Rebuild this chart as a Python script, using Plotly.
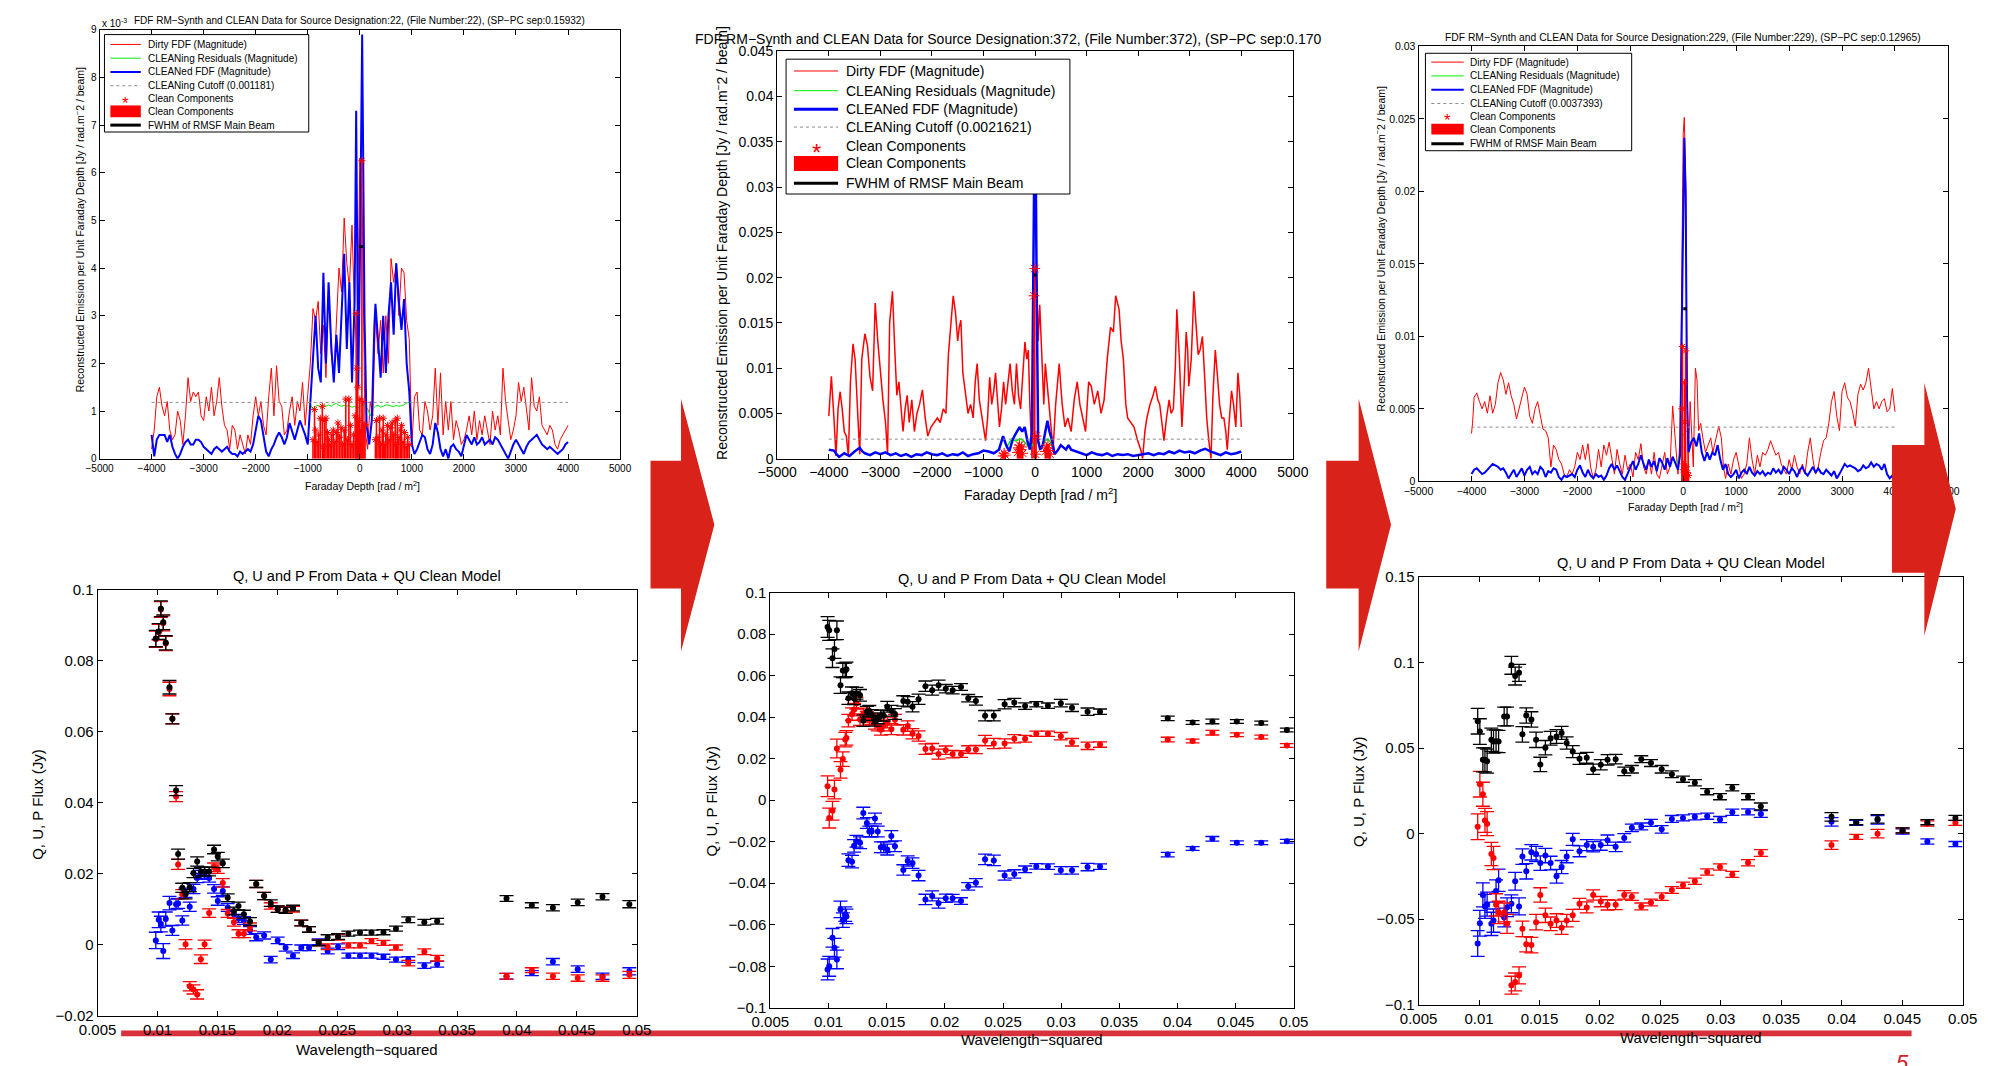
import plotly.graph_objects as go

W, H = 2015, 1066
FONT = "Liberation Sans, Arial, Helvetica, sans-serif"

# ------------------------------------------------------------------ data
# --- top-left FDF (source 22); amplitudes in units of 1e-3 Jy/rad.m^-2/beam
TL_PHI = list(range(-4000, 4001, 50))
TL_DIRTY_E3 = [
    0.2, 0.6, 1.3, 1.5, 1.1, 0.9, 1.2, 0.6, 0.4, 0.5,
    1.0, 0.8, 0.3, 0.9, 1.7, 1.2, 1.4, 1.3, 1.4, 0.9,
    0.8, 1.3, 1.0, 1.5, 0.9, 1.2, 1.7, 1.1, 0.7, 0.6,
    0.2, 0.7, 0.6, 0.2, 0.5, 0.3, 0.1, 0.5, 0.3, 0.9,
    1.3, 0.9, 1.2, 0.7, 0.5, 1.3, 1.9, 0.9, 1.95, 1.2,
    1.1, 0.5, 0.6, 1.0, 1.3, 0.7, 1.2, 1.0, 1.6, 0.7,
    1.3, 2.0, 3.15, 2.9, 3.3, 2.2, 2.8, 1.7, 3.6, 2.2,
    1.7, 3.0, 4.0, 3.5, 5.05, 4.1, 3.6, 4.9, 3.0, 2.2,
    6.3, 5.0, 0.6, 0.2, 1.2, 0.9, 3.0, 2.2, 2.9, 1.8,
    3.0, 2.0, 4.2, 3.7, 4.1, 3.0, 4.0, 3.9, 2.9, 2.5,
    0.3, 1.3, 1.4, 0.6, 0.5, 1.2, 1.0, 0.6, 0.9, 1.9,
    0.7, 1.8, 0.5, 1.2, 0.6, 1.2, 0.4, 0.8, 0.6, 0.3,
    0.4, 0.6, 0.9, 0.5, 1.0, 0.4, 0.8, 0.5, 0.9, 0.6,
    0.3, 1.0, 0.6, 0.9, 0.5, 1.9, 1.2, 0.8, 0.4, 0.6,
    0.9, 1.6, 1.2, 1.5, 1.0, 0.6, 1.7, 1.1, 1.0, 1.3,
    0.7, 0.6, 0.5, 0.7, 0.6, 0.3, 0.2, 0.4, 0.5, 0.6,
    0.7]
TL_CLEAN_E3 = [
    (-4000, 0.5), (-3950, 0.05), (-3900, 0.4), (-3850, 0.5), (-3800, 0.5), (-3750, 0.5),
    (-3700, 0.35), (-3650, 0.5), (-3600, 0.25), (-3550, 0.1), (-3500, 0.0), (-3450, 0.1),
    (-3400, 0.25), (-3350, 0.35), (-3300, 0.4), (-3250, 0.3), (-3200, 0.3), (-3150, 0.4),
    (-3100, 0.4), (-3050, 0.35), (-3000, 0.25), (-2950, 0.2), (-2900, 0.15), (-2850, 0.1),
    (-2800, 0.2), (-2750, 0.25), (-2700, 0.2), (-2650, 0.15), (-2600, 0.2), (-2550, 0.25),
    (-2500, 0.15), (-2450, 0.1), (-2400, 0.1), (-2350, 0.05), (-2300, 0.15), (-2250, 0.1),
    (-2200, 0.15), (-2150, 0.2), (-2100, 0.15), (-2050, 0.3), (-2000, 0.6), (-1950, 0.9),
    (-1900, 0.8), (-1850, 0.5), (-1800, 0.15), (-1750, 0.05), (-1700, 0.2), (-1650, 0.3),
    (-1600, 0.45), (-1550, 0.55), (-1500, 0.45), (-1450, 0.3), (-1400, 0.45), (-1350, 0.75),
    (-1300, 0.55), (-1250, 0.4), (-1200, 0.6), (-1150, 0.8), (-1100, 0.65), (-1050, 0.5),
    (-1000, 0.3), (-950, 1.2), (-900, 2.1), (-850, 3.0), (-800, 1.9), (-750, 1.6),
    (-700, 3.9), (-650, 2.0), (-600, 3.7), (-550, 2.4), (-500, 1.6), (-450, 2.6),
    (-400, 1.8), (-350, 3.2), (-300, 4.3), (-250, 2.3), (-200, 3.7), (-150, 1.6),
    (-100, 3.3), (-70, 7.3), (-30, 1.5), (0, 4.0), (45, 8.9), (90, 3.0), (130, 0.7),
    (180, 0.3), (230, 0.8), (280, 2.8), (300, 3.25), (350, 2.5), (400, 1.7), (450, 3.0),
    (500, 1.8), (550, 3.0), (600, 3.7), (650, 2.6), (700, 4.1), (750, 3.3), (800, 2.7),
    (850, 3.35), (900, 2.0), (950, 1.4), (1000, 0.3), (1050, 0.1), (1100, 0.2), (1150, 0.35),
    (1200, 0.5), (1250, 0.45), (1300, 0.2), (1350, 0.1), (1400, 0.3), (1450, 0.75),
    (1500, 0.55), (1550, 0.2), (1600, 0.05), (1650, 0.2), (1700, 0.0), (1750, 0.25),
    (1800, 0.3), (1850, 0.2), (1900, 0.15), (1950, 0.05), (2000, 0.3), (2050, 0.5),
    (2100, 0.4), (2150, 0.3), (2200, 0.45), (2250, 0.3), (2300, 0.35), (2350, 0.45),
    (2400, 0.3), (2450, 0.35), (2500, 0.4), (2550, 0.3), (2600, 0.45), (2650, 0.4),
    (2700, 0.3), (2750, 0.2), (2800, 0.1), (2850, 0.0), (2900, 0.15), (2950, 0.3),
    (3000, 0.4), (3050, 0.3), (3100, 0.2), (3150, 0.1), (3200, 0.25), (3250, 0.35),
    (3300, 0.4), (3350, 0.45), (3400, 0.5), (3450, 0.4), (3500, 0.3), (3550, 0.25),
    (3600, 0.2), (3650, 0.25), (3700, 0.2), (3750, 0.15), (3800, 0.1), (3850, 0.15),
    (3900, 0.2), (3950, 0.3), (4000, 0.35)]
TL_RESID_E3 = [
    (-950, 1.15), (-900, 1.02), (-850, 1.1), (-800, 1.12), (-750, 1.08), (-700, 1.12),
    (-650, 1.1), (-600, 1.13), (-550, 1.1), (-500, 1.14), (-450, 1.16), (-400, 1.12),
    (-350, 1.1), (-300, 1.12), (-250, 1.1), (-200, 1.11), (-150, 1.08), (-100, 1.1),
    (-50, 1.05), (0, 1.1), (50, 1.12), (100, 1.1), (150, 1.05), (200, 0.9), (250, 1.05),
    (300, 1.1), (350, 1.12), (400, 1.08), (450, 1.1), (500, 1.13), (550, 1.12), (600, 1.1),
    (650, 1.09), (700, 1.12), (750, 1.1), (800, 1.11), (850, 1.13), (900, 1.17), (950, 1.18),
    (980, 1.0)]
TL_CUTOFF = 0.001181
TL_CC_E3 = [
    (-900, 0.40), (-870, 1.03), (-850, 0.60), (-820, 0.35), (-790, 0.50), (-760, 0.85),
    (-720, 1.10), (-700, 0.25), (-680, 0.80), (-650, 0.85), (-620, 0.55), (-600, 0.40),
    (-570, 0.30), (-540, 0.50), (-510, 0.60), (-480, 0.35), (-450, 0.55), (-420, 0.75),
    (-390, 0.45), (-360, 0.65), (-330, 0.30), (-300, 0.60), (-270, 1.25), (-240, 0.40),
    (-210, 1.25), (-180, 0.70), (-150, 0.30), (-120, 0.50), (-90, 0.90), (-70, 3.05),
    (-55, 1.90), (-40, 1.50), (-20, 0.80), (0, 1.25), (20, 0.60), (40, 6.25), (60, 1.20),
    (80, 0.70), (100, 0.72), (300, 0.40), (320, 0.80), (350, 0.45), (380, 0.85), (400, 0.30),
    (430, 0.60), (450, 0.85), (480, 0.30), (500, 0.50), (530, 0.70), (560, 0.40), (590, 0.65),
    (620, 0.75), (650, 0.50), (680, 0.80), (700, 0.30), (720, 0.85), (750, 0.45), (780, 0.60),
    (800, 0.70), (830, 0.35), (860, 0.55), (890, 0.25), (920, 0.45), (950, 0.30)]
TL_FWHM_E3 = (-10, 60, 4.45)

# --- top-middle FDF (source 372)
TM_DIRTY = [
    (-4000, 0.0047), (-3950, 0.0091), (-3900, 0.0045), (-3860, 0.0003), (-3820, 0.0055),
    (-3780, 0.0074), (-3740, 0.0055), (-3700, 0.0030), (-3660, 0.0025), (-3620, 0.0003),
    (-3580, 0.0085), (-3530, 0.0127), (-3490, 0.0110), (-3450, 0.0060), (-3400, 0.0005),
    (-3360, 0.0110), (-3300, 0.0138), (-3250, 0.0125), (-3200, 0.0090), (-3150, 0.0075),
    (-3100, 0.0172), (-3050, 0.0130), (-3000, 0.0095), (-2950, 0.0065), (-2900, 0.0040),
    (-2860, 0.0005), (-2820, 0.0150), (-2765, 0.0185), (-2720, 0.0120), (-2680, 0.0070),
    (-2640, 0.0085), (-2600, 0.0060), (-2560, 0.0030), (-2520, 0.0055), (-2480, 0.0070),
    (-2440, 0.0040), (-2390, 0.0065), (-2340, 0.0030), (-2290, 0.0050), (-2240, 0.0060),
    (-2184, 0.0076), (-2130, 0.0045), (-2080, 0.0025), (-2018, 0.0035), (-1960, 0.0040),
    (-1894, 0.0045), (-1840, 0.0040), (-1780, 0.0055), (-1728, 0.0050), (-1680, 0.0115),
    (-1630, 0.0150), (-1587, 0.0180), (-1540, 0.0160), (-1500, 0.0130), (-1470, 0.0145),
    (-1438, 0.0153), (-1400, 0.0095), (-1350, 0.0075), (-1300, 0.0050), (-1250, 0.0060),
    (-1200, 0.0045), (-1160, 0.0085), (-1123, 0.0105), (-1080, 0.0065), (-1040, 0.0050),
    (-1000, 0.0040), (-960, 0.0020), (-920, 0.0045), (-880, 0.0090), (-840, 0.0060),
    (-800, 0.0075), (-766, 0.0095), (-730, 0.0060), (-690, 0.0035), (-650, 0.0055),
    (-610, 0.0085), (-570, 0.0060), (-530, 0.0080), (-484, 0.0105), (-440, 0.0075),
    (-400, 0.0060), (-360, 0.0105), (-320, 0.0070), (-280, 0.0055), (-240, 0.0095),
    (-196, 0.0129), (-160, 0.0110), (-130, 0.0120), (-100, 0.0060), (-58, 0.0000),
    (-30, 0.0120), (0, 0.0210), (30, 0.0195), (60, 0.0130), (91, 0.0170), (133, 0.0100),
    (170, 0.0060), (199, 0.0105), (250, 0.0070), (300, 0.0040), (350, 0.0010), (400, 0.0060),
    (440, 0.0090), (469, 0.0105), (500, 0.0080), (527, 0.0060), (580, 0.0035), (635, 0.0045),
    (700, 0.0030), (760, 0.0065), (818, 0.0085), (870, 0.0060), (925, 0.0045), (980, 0.0030),
    (1040, 0.0085), (1091, 0.0080), (1150, 0.0060), (1216, 0.0075), (1280, 0.0050),
    (1340, 0.0065), (1400, 0.0110), (1464, 0.0145), (1520, 0.0140), (1564, 0.0180),
    (1630, 0.0165), (1670, 0.0130), (1713, 0.0110), (1760, 0.0060), (1796, 0.0045),
    (1860, 0.0040), (1920, 0.0035), (1990, 0.0020), (2050, 0.0010), (2086, 0.0000),
    (2130, 0.0030), (2169, 0.0045), (2230, 0.0060), (2290, 0.0070), (2335, 0.0080),
    (2380, 0.0065), (2418, 0.0060), (2460, 0.0040), (2501, 0.0020), (2550, 0.0045),
    (2600, 0.0065), (2640, 0.0050), (2683, 0.0055), (2720, 0.0100), (2750, 0.0165),
    (2800, 0.0110), (2849, 0.0035), (2890, 0.0080), (2932, 0.0140), (2960, 0.0120),
    (2982, 0.0080), (3030, 0.0110), (3081, 0.0185), (3120, 0.0150), (3164, 0.0115),
    (3200, 0.0120), (3247, 0.0135), (3290, 0.0090), (3330, 0.0045), (3370, 0.0020),
    (3413, 0.0000), (3450, 0.0070), (3496, 0.0120), (3540, 0.0090), (3579, 0.0060),
    (3620, 0.0045), (3662, 0.0045), (3700, 0.0030), (3728, 0.0010), (3770, 0.0045),
    (3811, 0.0075), (3850, 0.0060), (3894, 0.0035), (3935, 0.0095), (3970, 0.0070),
    (4000, 0.0035)]
TM_CLEAN = [
    (-4000, 0.0010), (-3900, 0.0009), (-3850, 0.0005), (-3800, 0.0002), (-3700, 0.0006),
    (-3600, 0.0003), (-3500, 0.0008), (-3400, 0.0012), (-3350, 0.0008), (-3300, 0.0006),
    (-3200, 0.0004), (-3100, 0.0007), (-3000, 0.0005), (-2900, 0.0007), (-2800, 0.0004),
    (-2700, 0.0006), (-2600, 0.0003), (-2500, 0.0005), (-2400, 0.0002), (-2300, 0.0005),
    (-2200, 0.0004), (-2100, 0.0007), (-2000, 0.0005), (-1900, 0.0004), (-1800, 0.0006),
    (-1700, 0.0003), (-1600, 0.0005), (-1500, 0.0004), (-1400, 0.0007), (-1300, 0.0003),
    (-1200, 0.0005), (-1100, 0.0006), (-1000, 0.0009), (-900, 0.0008), (-800, 0.0006),
    (-700, 0.0010), (-620, 0.0025), (-560, 0.0015), (-500, 0.0008), (-440, 0.0020),
    (-400, 0.0025), (-350, 0.0030), (-300, 0.0035), (-250, 0.0030), (-200, 0.0035),
    (-150, 0.0020), (-100, 0.0010), (-60, 0.0030), (-30, 0.0200), (0, 0.0420), (30, 0.0200),
    (60, 0.0020), (100, 0.0010), (150, 0.0015), (200, 0.0030), (240, 0.0042), (280, 0.0030),
    (330, 0.0020), (380, 0.0005), (450, 0.0010), (500, 0.0015), (550, 0.0012), (600, 0.0010),
    (650, 0.0015), (700, 0.0010), (800, 0.0008), (900, 0.0006), (1000, 0.0004),
    (1100, 0.0007), (1200, 0.0005), (1300, 0.0004), (1400, 0.0006), (1500, 0.0003),
    (1600, 0.0005), (1700, 0.0004), (1800, 0.0005), (1900, 0.0003), (2000, 0.0004),
    (2100, 0.0005), (2200, 0.0006), (2300, 0.0004), (2400, 0.0006), (2500, 0.0005),
    (2600, 0.0008), (2700, 0.0006), (2800, 0.0009), (2900, 0.0007), (3000, 0.0008),
    (3100, 0.0006), (3200, 0.0009), (3300, 0.0011), (3400, 0.0008), (3500, 0.0006),
    (3600, 0.0004), (3700, 0.0007), (3800, 0.0005), (3900, 0.0006), (4000, 0.0008)]
TM_RESID = [
    (-560, 0.0012), (-500, 0.0018), (-450, 0.0022), (-400, 0.0020), (-350, 0.0020),
    (-300, 0.0022), (-250, 0.0021), (-200, 0.0018), (-150, 0.0015), (-100, 0.0012),
    (-50, 0.0015), (0, 0.0020), (50, 0.0018), (100, 0.0012), (150, 0.0015), (200, 0.0020),
    (250, 0.0022), (300, 0.0018), (340, 0.0012)]
TM_CUTOFF = 0.0021621
TM_CC = [
    (-620, 0.0003), (-600, 0.0006), (-580, 0.0004), (-340, 0.0007), (-320, 0.0012),
    (-300, 0.0015), (-280, 0.0010), (-260, 0.0013), (-240, 0.0006), (-20, 0.0180),
    (-5, 0.0210), (10, 0.0005), (20, 0.0025), (200, 0.0008), (220, 0.0012), (250, 0.0015),
    (270, 0.0009), (290, 0.0005)]
TM_FWHM = (-25, 25, 0.0203)

# --- top-right FDF (source 229)
TR_DIRTY = [
    (-4000, 0.0033), (-3980, 0.0040), (-3950, 0.0058), (-3900, 0.0061), (-3850, 0.0055),
    (-3800, 0.0050), (-3750, 0.0055), (-3700, 0.0047), (-3650, 0.0059), (-3600, 0.0047),
    (-3550, 0.0053), (-3500, 0.0068), (-3450, 0.0075), (-3400, 0.0070), (-3350, 0.0060),
    (-3300, 0.0068), (-3250, 0.0059), (-3200, 0.0053), (-3150, 0.0043), (-3100, 0.0050),
    (-3050, 0.0057), (-3000, 0.0065), (-2950, 0.0060), (-2900, 0.0045), (-2850, 0.0040),
    (-2800, 0.0050), (-2750, 0.0055), (-2700, 0.0045), (-2650, 0.0036), (-2600, 0.0035),
    (-2550, 0.0030), (-2500, 0.0010), (-2450, 0.0025), (-2400, 0.0022), (-2350, 0.0015),
    (-2300, 0.0012), (-2250, 0.0005), (-2200, 0.0003), (-2150, 0.0008), (-2100, 0.0005),
    (-2050, 0.0010), (-2000, 0.0020), (-1950, 0.0015), (-1900, 0.0025), (-1850, 0.0015),
    (-1800, 0.0026), (-1750, 0.0010), (-1700, 0.0002), (-1650, 0.0008), (-1600, 0.0022),
    (-1550, 0.0010), (-1500, 0.0025), (-1450, 0.0018), (-1400, 0.0027), (-1350, 0.0015),
    (-1300, 0.0005), (-1250, 0.0022), (-1200, 0.0012), (-1150, 0.0005), (-1100, 0.0018),
    (-1050, 0.0008), (-1000, 0.0012), (-950, 0.0003), (-900, 0.0020), (-850, 0.0015),
    (-800, 0.0026), (-750, 0.0010), (-700, 0.0005), (-650, 0.0015), (-600, 0.0005),
    (-550, 0.0020), (-500, 0.0005), (-450, 0.0002), (-400, 0.0010), (-350, 0.0020),
    (-300, 0.0005), (-250, 0.0010), (-200, 0.0052), (-150, 0.0030), (-100, 0.0005),
    (-60, 0.0030), (-30, 0.0130), (0, 0.0240), (20, 0.0251), (50, 0.0200), (70, 0.0080),
    (90, 0.0002), (130, 0.0055), (160, 0.0030), (190, 0.0010), (230, 0.0078), (260, 0.0070),
    (290, 0.0035), (330, 0.0040), (370, 0.0030), (420, 0.0020), (470, 0.0025), (520, 0.0030),
    (560, 0.0020), (620, 0.0030), (670, 0.0038), (720, 0.0030), (760, 0.0010), (800, 0.0002),
    (850, 0.0012), (900, 0.0005), (950, 0.0015), (1000, 0.0020), (1050, 0.0010),
    (1100, 0.0002), (1150, 0.0005), (1200, 0.0012), (1250, 0.0030), (1300, 0.0015),
    (1350, 0.0005), (1400, 0.0018), (1450, 0.0010), (1500, 0.0020), (1550, 0.0018),
    (1600, 0.0022), (1650, 0.0028), (1700, 0.0023), (1750, 0.0018), (1800, 0.0020),
    (1850, 0.0012), (1900, 0.0008), (1950, 0.0005), (2000, 0.0015), (2050, 0.0008),
    (2100, 0.0018), (2150, 0.0010), (2200, 0.0005), (2250, 0.0012), (2300, 0.0005),
    (2350, 0.0020), (2400, 0.0030), (2450, 0.0015), (2500, 0.0005), (2550, 0.0010),
    (2600, 0.0020), (2650, 0.0028), (2700, 0.0030), (2750, 0.0040), (2800, 0.0055),
    (2850, 0.0062), (2900, 0.0045), (2950, 0.0035), (3000, 0.0062), (3050, 0.0068),
    (3100, 0.0058), (3150, 0.0055), (3200, 0.0048), (3250, 0.0038), (3300, 0.0060),
    (3350, 0.0067), (3400, 0.0063), (3450, 0.0068), (3500, 0.0078), (3550, 0.0065),
    (3600, 0.0050), (3650, 0.0055), (3700, 0.0050), (3750, 0.0055), (3800, 0.0057),
    (3850, 0.0048), (3900, 0.0050), (3950, 0.0064), (4000, 0.0048)]
TR_CLEAN = [
    (-4000, 0.0005), (-3950, 0.0008), (-3900, 0.0009), (-3850, 0.0007), (-3800, 0.0005),
    (-3750, 0.0006), (-3700, 0.0008), (-3650, 0.0010), (-3600, 0.0012), (-3550, 0.0011),
    (-3500, 0.0010), (-3450, 0.0008), (-3400, 0.0009), (-3350, 0.0006), (-3300, 0.0002),
    (-3250, 0.0005), (-3200, 0.0008), (-3150, 0.0003), (-3100, 0.0006), (-3050, 0.0009),
    (-3000, 0.0004), (-2950, 0.0008), (-2900, 0.0010), (-2850, 0.0005), (-2800, 0.0007),
    (-2750, 0.0005), (-2700, 0.0010), (-2650, 0.0008), (-2600, 0.0003), (-2550, 0.0007),
    (-2500, 0.0006), (-2450, 0.0009), (-2400, 0.0008), (-2350, 0.0003), (-2300, 0.0001),
    (-2250, 0.0004), (-2200, 0.0003), (-2150, 0.0004), (-2100, 0.0005), (-2050, 0.0003),
    (-2000, 0.0008), (-1950, 0.0011), (-1900, 0.0006), (-1850, 0.0003), (-1800, 0.0008),
    (-1750, 0.0004), (-1700, 0.0002), (-1650, 0.0005), (-1600, 0.0003), (-1550, 0.0004),
    (-1500, 0.0001), (-1450, 0.0004), (-1400, 0.0009), (-1350, 0.0012), (-1300, 0.0008),
    (-1250, 0.0011), (-1200, 0.0007), (-1150, 0.0003), (-1100, 0.0001), (-1050, 0.0005),
    (-1000, 0.0010), (-950, 0.0014), (-900, 0.0008), (-850, 0.0012), (-800, 0.0018),
    (-750, 0.0012), (-700, 0.0008), (-650, 0.0015), (-600, 0.0010), (-550, 0.0014),
    (-500, 0.0007), (-450, 0.0016), (-400, 0.0013), (-350, 0.0008), (-300, 0.0016),
    (-250, 0.0010), (-200, 0.0017), (-150, 0.0013), (-100, 0.0008), (-60, 0.0018),
    (-30, 0.0100), (0, 0.0210), (20, 0.0237), (45, 0.0200), (70, 0.0060), (100, 0.0020),
    (150, 0.0027), (200, 0.0030), (250, 0.0024), (300, 0.0033), (350, 0.0020), (400, 0.0014),
    (450, 0.0020), (500, 0.0015), (550, 0.0020), (600, 0.0018), (650, 0.0025), (700, 0.0015),
    (750, 0.0008), (800, 0.0012), (850, 0.0005), (900, 0.0003), (950, 0.0005), (1000, 0.0008),
    (1050, 0.0002), (1100, 0.0006), (1150, 0.0008), (1200, 0.0005), (1250, 0.0010),
    (1300, 0.0006), (1350, 0.0004), (1400, 0.0007), (1450, 0.0005), (1500, 0.0007),
    (1550, 0.0004), (1600, 0.0006), (1650, 0.0005), (1700, 0.0009), (1750, 0.0006),
    (1800, 0.0008), (1850, 0.0005), (1900, 0.0010), (1950, 0.0008), (2000, 0.0005),
    (2050, 0.0009), (2100, 0.0007), (2150, 0.0003), (2200, 0.0008), (2250, 0.0010),
    (2300, 0.0006), (2350, 0.0004), (2400, 0.0007), (2450, 0.0010), (2500, 0.0006),
    (2550, 0.0009), (2600, 0.0006), (2650, 0.0005), (2700, 0.0008), (2750, 0.0006),
    (2800, 0.0004), (2850, 0.0007), (2900, 0.0002), (2950, 0.0005), (3000, 0.0009),
    (3050, 0.0012), (3100, 0.0010), (3150, 0.0011), (3200, 0.0010), (3250, 0.0009),
    (3300, 0.0007), (3350, 0.0008), (3400, 0.0011), (3450, 0.0009), (3500, 0.0010),
    (3550, 0.0013), (3600, 0.0010), (3650, 0.0012), (3700, 0.0011), (3750, 0.0008),
    (3800, 0.0012), (3850, 0.0005), (3900, 0.0002), (3950, 0.0004), (4000, 0.0007)]
TR_RESID = [(-120, 0.0012), (-60, 0.0020), (0, 0.0032), (40, 0.0035), (80, 0.0034), (110, 0.0025)]
TR_CUTOFF = 0.0037393
TR_CC = [(-25, 0.0050), (-15, 0.0093), (0, 0.0008), (10, 0.0012), (25, 0.0068), (35, 0.0041),
         (45, 0.0090), (60, 0.0010), (80, 0.0006), (100, 0.0004)]
TR_FWHM = (0, 70, 0.0119)

# --- bottom-left Q/U/P (source 22)
BL_LAM2 = [0.00986, 0.0101, 0.01028, 0.01048, 0.01069, 0.011, 0.01124, 0.01155, 0.01172, 0.01207,
           0.01234, 0.01269, 0.013, 0.01331, 0.01362, 0.01393, 0.01431, 0.01472, 0.01503, 0.01545,
           0.01586, 0.01638, 0.01676, 0.01721, 0.01772, 0.01824, 0.0189, 0.01945, 0.02003, 0.02069,
           0.02131, 0.022, 0.02265, 0.02345, 0.0242, 0.02507, 0.02593, 0.0269, 0.02786, 0.02886,
           0.0299, 0.03093, 0.03227, 0.03334, 0.03913, 0.04124, 0.043, 0.04507, 0.04714, 0.04938]
BL_P = [0.0862, 0.0882, 0.0946, 0.0908, 0.0850, 0.0725, 0.0636, 0.0434, 0.0255, 0.0160,
        0.0142, 0.0162, 0.0202, 0.0234, 0.0206, 0.0206, 0.0206, 0.0268, 0.0248, 0.0229,
        0.0132, 0.0095, 0.0109, 0.0086, 0.0065, 0.0171, 0.0137, 0.0117, 0.0100, 0.0097,
        0.0103, 0.0061, 0.0043, 0.0005, 0.0020, 0.0023, 0.0031, 0.0034, 0.0034, 0.0035,
        0.0045, 0.0070, 0.0063, 0.0066, 0.0130, 0.0111, 0.0104, 0.0119, 0.0135, 0.0114]
BL_Q = [0.0860, 0.0880, 0.0944, 0.0905, 0.0848, 0.0720, 0.0636, 0.0417, 0.0226, 0.0142,
        0.0001, -0.0117, -0.0126, -0.0140, -0.0041, 0.0001, 0.0089, 0.0218, 0.0213, 0.0174,
        0.0088, 0.0063, 0.0031, 0.0031, 0.0050, 0.0171, 0.0137, 0.0109, 0.0100, 0.0097,
        0.0100, 0.0061, 0.0043, 0.0005, -0.0006, 0.0021, -0.0002, -0.0002, 0.0010, 0.0005,
        -0.0008, -0.0052, -0.0020, -0.0038, -0.0089, -0.0072, -0.0089, -0.0094, -0.0094, -0.0085]
BL_U = [0.0012, 0.0070, 0.0058, -0.0018, 0.0072, 0.0117, 0.0040, 0.0114, 0.0116, 0.0068,
        0.0146, 0.0107, 0.0157, 0.0188, 0.0197, 0.0197, 0.0188, 0.0157, 0.0123, 0.0151,
        0.0105, 0.0086, 0.0074, 0.0068, 0.0040, 0.0021, 0.0026, -0.0042, 0.0012, -0.0009,
        -0.0031, -0.0009, -0.0009, 0.0008, -0.0018, -0.0006, -0.0031, -0.0031, -0.0031, -0.0034,
        -0.0042, -0.0042, -0.0059, -0.0055, -0.0089, -0.0080, -0.0048, -0.0069, -0.0089, -0.0075]
BL_ERR = [0.0023, 0.0022, 0.0022, 0.0021, 0.0020, 0.0019, 0.0014, 0.0014, 0.0014, 0.0013,
          0.0013, 0.0013, 0.0013, 0.0013, 0.0012, 0.0012, 0.0012, 0.0012, 0.0012, 0.0012,
          0.0011, 0.0011, 0.0011, 0.0011, 0.0011, 0.0010, 0.0010, 0.0009, 0.0009, 0.0009,
          0.0008, 0.0008, 0.0008, 0.0008, 0.0008, 0.0008, 0.0007, 0.0007, 0.0007, 0.0007,
          0.0007, 0.0008, 0.0008, 0.0008, 0.0008, 0.0007, 0.0009, 0.0009, 0.0009, 0.0010]

# --- bottom-middle Q/U/P (source 372)
BM_LAM2 = [0.00992, 0.01006, 0.01034, 0.01051, 0.01072, 0.01103, 0.01123, 0.01144, 0.01154, 0.01171,
           0.01202, 0.0122, 0.0124, 0.01271, 0.01299, 0.0133, 0.01351, 0.01371, 0.01399, 0.01423,
           0.0145, 0.01475, 0.01505, 0.0154, 0.01571, 0.01643, 0.01681, 0.01722, 0.01774, 0.01833,
           0.01891, 0.01946, 0.02008, 0.02067, 0.02139, 0.02201, 0.02267, 0.02346, 0.02421, 0.02514,
           0.02597, 0.0269, 0.02786, 0.02886, 0.02997, 0.03093, 0.03227, 0.03334,
           0.03916, 0.0413, 0.0430, 0.0451, 0.0472, 0.0494]
BM_P = [0.0834, 0.0818, 0.0684, 0.0728, 0.0818, 0.0554, 0.0625, 0.0625, 0.0630, 0.0491,
        0.0515, 0.0490, 0.0515, 0.0505, 0.0383, 0.0426, 0.0430, 0.0410, 0.0383, 0.0394,
        0.0407, 0.0407, 0.0450, 0.0431, 0.0415, 0.0478, 0.0474, 0.0450, 0.0486, 0.0549,
        0.0530, 0.0554, 0.0537, 0.0530, 0.0545, 0.0491, 0.0478, 0.0407, 0.0407, 0.0462,
        0.0470, 0.0453, 0.0462, 0.0455, 0.0467, 0.0445, 0.0426, 0.0426,
        0.0394, 0.0374, 0.0379, 0.0379, 0.0372, 0.0338]
BM_Q = [0.0067, -0.0086, -0.0051, 0.0051, 0.0249, 0.0146, 0.0198, 0.0292, 0.0300, 0.0383,
        0.0415, 0.0436, 0.0467, 0.0388, 0.0415, 0.0402, 0.0387, 0.0391, 0.0368, 0.0360,
        0.0339, 0.0360, 0.0374, 0.0342, 0.0387, 0.0339, 0.0357, 0.0320, 0.0309, 0.0246,
        0.0249, 0.0222, 0.0241, 0.0222, 0.0222, 0.0244, 0.0244, 0.0287, 0.0273, 0.0273,
        0.0296, 0.0296, 0.0320, 0.0320, 0.0308, 0.0279, 0.0262, 0.0268,
        0.0292, 0.0285, 0.0325, 0.0315, 0.0304, 0.0263]
BM_U = [-0.0815, -0.0800, -0.0663, -0.0711, -0.0767, -0.0526, -0.0578, -0.0549, -0.0560, -0.0289,
        -0.0296, -0.0220, -0.0198, -0.0205, -0.0062, -0.0110, -0.0151, -0.0151, -0.0088, -0.0151,
        -0.0227, -0.0227, -0.0238, -0.0173, -0.0222, -0.0336, -0.0293, -0.0303, -0.0363, -0.0478,
        -0.0461, -0.0496, -0.0472, -0.0472, -0.0486, -0.0415, -0.0398, -0.0285, -0.0290, -0.0363,
        -0.0355, -0.0333, -0.0319, -0.0320, -0.0338, -0.0338, -0.0322, -0.0320,
        -0.0262, -0.0233, -0.0186, -0.0205, -0.0205, -0.0198]
BM_ERR = [0.0050, 0.0048, 0.0045, 0.0045, 0.0045, 0.0040, 0.0035, 0.0035, 0.0035, 0.0030,
          0.0030, 0.0030, 0.0028, 0.0028, 0.0028, 0.0026, 0.0026, 0.0026, 0.0026, 0.0026,
          0.0026, 0.0026, 0.0026, 0.0026, 0.0026, 0.0025, 0.0025, 0.0025, 0.0025, 0.0025,
          0.0024, 0.0024, 0.0020, 0.0018, 0.0016, 0.0018, 0.0020, 0.0025, 0.0025, 0.0022,
          0.0020, 0.0016, 0.0013, 0.0013, 0.0018, 0.0018, 0.0018, 0.0013,
          0.0011, 0.0009, 0.0011, 0.0009, 0.0009, 0.0009]

# --- bottom-right Q/U/P (source 229)
BR_LAM2 = [0.00989, 0.01007, 0.01032, 0.01049, 0.01067, 0.01102, 0.0112, 0.01141, 0.01162, 0.01208,
           0.01232, 0.01268, 0.01299, 0.01331, 0.01359, 0.01391, 0.01433, 0.01472, 0.01507, 0.01549,
           0.01592, 0.01641, 0.01683, 0.01725, 0.01775, 0.01831, 0.01891, 0.01944, 0.02007, 0.02063,
           0.0213, 0.02201, 0.02264, 0.02342, 0.02422, 0.02511, 0.02595, 0.02687, 0.02785, 0.02887,
           0.02993, 0.03095, 0.03225, 0.03331, 0.03915, 0.0412, 0.04296, 0.04503, 0.04708, 0.0494]
BR_P = [0.0657, 0.0596, 0.0431, 0.0431, 0.0423, 0.0548, 0.0538, 0.0540, 0.0538, 0.0684,
        0.0684, 0.0983, 0.0920, 0.0939, 0.0580, 0.0690, 0.0667, 0.0548, 0.0404, 0.0502,
        0.0557, 0.0567, 0.0588, 0.0529, 0.0479, 0.0437, 0.0443, 0.0376, 0.0402, 0.0431,
        0.0435, 0.0364, 0.0376, 0.0435, 0.0412, 0.0376, 0.0347, 0.0318, 0.0297, 0.0245,
        0.0216, 0.0268, 0.0216, 0.0159, 0.0098, 0.0067, 0.0086, 0.0019, 0.0067, 0.0092]
BR_Q = [0.0040, 0.0289, 0.0230, 0.0077, 0.0058, -0.0119, -0.0142, -0.0416, -0.0460, -0.0460,
        -0.0527, -0.0885, -0.0866, -0.0828, -0.0556, -0.0646, -0.0651, -0.0517, -0.0358, -0.0477,
        -0.0527, -0.0508, -0.0550, -0.0508, -0.0477, -0.0410, -0.0431, -0.0358, -0.0397, -0.0416,
        -0.0416, -0.0358, -0.0368, -0.0425, -0.0402, -0.0368, -0.0329, -0.0301, -0.0278, -0.0224,
        -0.0195, -0.0238, -0.0170, -0.0113, -0.0067, -0.0019, 0.0000, 0.0019, 0.0059, 0.0063]
BR_U = [-0.0642, -0.0523, -0.0358, -0.0425, -0.0412, -0.0527, -0.0508, -0.0335, -0.0272, -0.0490,
        -0.0430, -0.0410, -0.0278, -0.0425, -0.0134, -0.0220, -0.0109, -0.0119, -0.0172, -0.0128,
        -0.0172, -0.0249, -0.0195, -0.0134, -0.0033, -0.0103, -0.0067, -0.0077, -0.0067, -0.0038,
        -0.0077, -0.0025, 0.0034, 0.0042, 0.0063, 0.0025, 0.0086, 0.0092, 0.0098, 0.0102,
        0.0082, 0.0125, 0.0127, 0.0115, 0.0069, 0.0063, 0.0080, 0.0013, -0.0046, -0.0061]
BR_ERR = [0.0075, 0.0075, 0.0070, 0.0070, 0.0070, 0.0068, 0.0068, 0.0065, 0.0065, 0.0055,
          0.0055, 0.0052, 0.0052, 0.0050, 0.0045, 0.0045, 0.0045, 0.0045, 0.0042, 0.0042,
          0.0040, 0.0040, 0.0038, 0.0036, 0.0035, 0.0032, 0.0032, 0.0030, 0.0030, 0.0030,
          0.0028, 0.0025, 0.0022, 0.0020, 0.0020, 0.0022, 0.0020, 0.0018, 0.0018, 0.0018,
          0.0018, 0.0018, 0.0018, 0.0020, 0.0025, 0.0015, 0.0025, 0.0015, 0.0015, 0.0015]

LEGEND_LABELS = ["Dirty FDF (Magnitude)", "CLEANing Residuals (Magnitude)", "CLEANed FDF (Magnitude)",
                 "CLEANing Cutoff ({})", "Clean Components", "Clean Components", "FWHM of RMSF Main Beam"]


# ------------------------------------------------------------------ helpers
def fx(x):
    return x / W


def fy(y):
    return 1 - y / H


traces, shapes, annots = [], [], []


def fdf_panel(xa, ya, dirty, resid, clean, cutoff, cc, fwhm, lw_thin, lw_blue, star_size):
    dphi, dval = zip(*dirty)
    traces.append(go.Scatter(x=dphi, y=dval, mode="lines", line=dict(color="#ff0000", width=lw_thin),
                             xaxis=xa, yaxis=ya))
    rphi, rval = zip(*resid)
    traces.append(go.Scatter(x=rphi, y=rval, mode="lines", line=dict(color="#00ee00", width=lw_thin),
                             xaxis=xa, yaxis=ya))
    cphi, cval = zip(*clean)
    traces.append(go.Scatter(x=cphi, y=cval, mode="lines", line=dict(color="#0000ff", width=lw_blue),
                             xaxis=xa, yaxis=ya))
    traces.append(go.Scatter(x=[min(dphi), max(dphi)], y=[cutoff, cutoff], mode="lines",
                             line=dict(color="#8a8a8a", width=1, dash="dot"), xaxis=xa, yaxis=ya))
    sx, sy = [], []
    for p, a in cc:
        sx += [p, p, None]
        sy += [0, a, None]
    traces.append(go.Scatter(x=sx, y=sy, mode="lines", line=dict(color="#ff0000", width=1.6),
                             xaxis=xa, yaxis=ya))
    traces.append(go.Scatter(x=[p for p, a in cc], y=[a for p, a in cc], mode="markers",
                             marker=dict(symbol="asterisk-open", size=star_size, color="#ff0000",
                                         line=dict(color="#ff0000", width=1)),
                             xaxis=xa, yaxis=ya))
    traces.append(go.Scatter(x=[fwhm[0], fwhm[1]], y=[fwhm[2], fwhm[2]], mode="lines",
                             line=dict(color="black", width=3), xaxis=xa, yaxis=ya))


def qu_panel(xa, ya, lam2, q, u, p, err):
    for vals, col in ((u, "#0000ff"), (q, "#ff0000"), (p, "#000000")):
        traces.append(go.Scatter(x=lam2, y=vals, mode="markers",
                                 marker=dict(color=col, size=6),
                                 error_y=dict(type="data", array=err, visible=True, color=col,
                                              thickness=1.3, width=7),
                                 xaxis=xa, yaxis=ya))


def legend_box(box, rows, sx, tx, fs, cutoff, bar_h, blue_w):
    x0, y0, x1, y1 = box
    shapes.append(dict(type="rect", xref="paper", yref="paper", x0=fx(x0), x1=fx(x1),
                       y0=fy(y1), y1=fy(y0), line=dict(color="black", width=1),
                       fillcolor="white", layer="above"))
    styles = [("#ff0000", 1, "solid"), ("#00ee00", 1, "solid"), ("#0000ff", blue_w, "solid"),
              ("#8a8a8a", 1, "dot")]
    for i, (c, w, d) in enumerate(styles):
        shapes.append(dict(type="line", xref="paper", yref="paper", x0=fx(sx[0]), x1=fx(sx[1]),
                           y0=fy(rows[i]), y1=fy(rows[i]), line=dict(color=c, width=w, dash=d),
                           layer="above"))
    shapes.append(dict(type="rect", xref="paper", yref="paper", x0=fx(sx[0]), x1=fx(sx[1]),
                       y0=fy(rows[5] + bar_h / 2), y1=fy(rows[5] - bar_h / 2),
                       line=dict(width=0), fillcolor="#ff0000", layer="above"))
    shapes.append(dict(type="line", xref="paper", yref="paper", x0=fx(sx[0]), x1=fx(sx[1]),
                       y0=fy(rows[6]), y1=fy(rows[6]), line=dict(color="black", width=3),
                       layer="above"))
    annots.append(dict(xref="paper", yref="paper", x=fx((sx[0] + sx[1]) / 2), y=fy(rows[4]),
                       text="*", showarrow=False, xanchor="center", yanchor="middle",
                       yshift=-fs * 0.45, font=dict(family=FONT, size=fs * 1.7, color="#ff0000")))
    for i, lab in enumerate(LEGEND_LABELS):
        txt = lab.format(cutoff) if "{}" in lab else lab
        annots.append(dict(xref="paper", yref="paper", x=fx(tx), y=fy(rows[i]), text=txt,
                           showarrow=False, xanchor="left", yanchor="middle",
                           font=dict(family=FONT, size=fs, color="black")))


def text(x, y, s, fs, xanchor="center", yanchor="middle", angle=0, color="black"):
    annots.append(dict(xref="paper", yref="paper", x=fx(x), y=fy(y), text=s, showarrow=False,
                       xanchor=xanchor, yanchor=yanchor, textangle=angle,
                       font=dict(family=FONT, size=fs, color=color)))


# ------------------------------------------------------------------ traces
fdf_panel("x", "y", list(zip(TL_PHI, TL_DIRTY_E3)), TL_RESID_E3, TL_CLEAN_E3, TL_CUTOFF * 1e3,
          TL_CC_E3, TL_FWHM_E3, 1, 2, 6)
fdf_panel("x2", "y2", TM_DIRTY, TM_RESID, TM_CLEAN, TM_CUTOFF, TM_CC, TM_FWHM, 1.5, 2.5, 9)
fdf_panel("x3", "y3", TR_DIRTY, TR_RESID, TR_CLEAN, TR_CUTOFF, TR_CC, TR_FWHM, 1, 2, 6)
qu_panel("x4", "y4", BL_LAM2, BL_Q, BL_U, BL_P, BL_ERR)
qu_panel("x5", "y5", BM_LAM2, BM_Q, BM_U, BM_P, BM_ERR)
qu_panel("x6", "y6", BR_LAM2, BR_Q, BR_U, BR_P, BR_ERR)


# ------------------------------------------------------------------ axes
def axis(dom_px, rng, dtick, fs, anchor, vertical=False):
    if vertical:
        dom = [fy(dom_px[1]), fy(dom_px[0])]
    else:
        dom = [fx(dom_px[0]), fx(dom_px[1])]
    return dict(domain=dom, range=rng, dtick=dtick, tick0=0, anchor=anchor,
                showline=True, linecolor="black", linewidth=1, mirror="ticks",
                ticks="inside", ticklen=5, tickwidth=1, tickcolor="black",
                showgrid=False, zeroline=False,
                tickfont=dict(family=FONT, size=fs, color="black"))


layout = dict(
    width=W, height=H, margin=dict(l=0, r=0, t=0, b=0),
    paper_bgcolor="white", plot_bgcolor="white", showlegend=False,
    xaxis=axis((81, 611), [-5000, 5000], 1000, 10, "y"),
    yaxis=axis((21, 457), [0, 9], 1, 10, "x", True),
    xaxis2=axis((771, 1296), [-5000, 5000], 1000, 14, "y2"),
    yaxis2=axis((43, 457), [0, 0.045], 0.005, 14, "x2", True),
    xaxis3=axis((1424, 1963), [-5000, 5000], 1000, 10.5, "y3"),
    yaxis3=axis((38, 480), [0, 0.03], 0.005, 10.5, "x3", True),
    xaxis4=axis((79, 628), [0.005, 0.05], 0.005, 15, "y4"),
    yaxis4=axis((590, 1023), [-0.02, 0.1], 0.02, 15, "x4", True),
    xaxis5=axis((764, 1297), [0.005, 0.05], 0.005, 15, "y5"),
    yaxis5=axis((593, 1015), [-0.1, 0.1], 0.02, 15, "x5", True),
    xaxis6=axis((1424, 1978), [0.005, 0.05], 0.005, 15, "y6"),
    yaxis6=axis((577, 1012), [-0.1, 0.15], 0.05, 15, "x6", True),
)

# ------------------------------------------------------------------ legends
legend_box((86, 26, 294, 125), [36, 50, 64, 78, 91, 104, 118], (92, 123), 128, 10,
           TL_CUTOFF, 12, 2)
legend_box((780, 51, 1069, 188), [63, 83, 102, 120, 139, 157, 177], (788, 833), 839, 14,
           TM_CUTOFF, 15, 3)
legend_box((1431, 45, 1641, 144), [54, 68, 82, 96, 109, 122, 137], (1437, 1470), 1474, 10,
           TR_CUTOFF, 11, 2)

# ------------------------------------------------------------------ titles & labels
YLAB = "Reconstructed Emission per Unit Faraday Depth [Jy / rad.m<sup>−</sup>2 / beam]"
XLAB = "Faraday Depth [rad / m<sup>2</sup>]"
text(346, 12, "FDF RM−Synth and CLEAN Data for Source Designation:22, (File Number:22), (SP−PC sep:0.15932)", 10)
text(81, 14, "x 10<sup>-3</sup>", 10, xanchor="left")
text(349, 484, XLAB, 10.5)
text(60, 224, YLAB, 10.5, angle=-90)

text(685, 30, "FDF RM−Synth and CLEAN Data for Source Designation:372, (File Number:372), (SP−PC sep:0.170", 14,
     xanchor="left")
text(1039, 493, XLAB, 14)
text(714, 460, YLAB, 14, yanchor="bottom", angle=-90)

text(1693, 29, "FDF RM−Synth and CLEAN Data for Source Designation:229, (File Number:229), (SP−PC sep:0.12965)", 10.3)
text(1696, 506, XLAB, 10.5)
text(1384, 244, YLAB, 10.5, angle=-90)

QU_TITLE = "Q, U and P From Data + QU Clean Model"
for tx_, ty_, lx, ly, xl_y in ((353, 576, 17, 808, 1057), (1030, 579, 704, 805, 1047),
                                (1701, 563, 1363, 795, 1045)):
    text(tx_, ty_, QU_TITLE, 14.5)
    text(lx, ly, "Q, U, P Flux (Jy)", 15, angle=-90)
    text(tx_, xl_y, "Wavelength−squared", 15)

# ------------------------------------------------------------------ slide decorations
ARROW = "#d9221a"
for (bx0, bx1, by0, by1, hy0, hy1, tipx, tipy) in ((642, 673, 459, 589, 396, 653, 707, 524),
                                                   (1330, 1363, 459, 589, 396, 653, 1396, 524),
                                                   (1906, 1939, 443, 573, 380, 637, 1971, 508)):
    pts = [(bx0, by0), (bx1, by0), (bx1, hy0), (tipx, tipy), (bx1, hy1), (bx1, by1), (bx0, by1)]
    path = "M " + " L ".join(f"{fx(a):.5f},{fy(b):.5f}" for a, b in pts) + " Z"
    shapes.append(dict(type="path", xref="paper", yref="paper", path=path,
                       fillcolor=ARROW, line=dict(width=0), layer="above"))
shapes.append(dict(type="rect", xref="paper", yref="paper", x0=fx(103), x1=fx(1926),
                   y0=fy(1044), y1=fy(1038), fillcolor="#d9313b", line=dict(width=0), layer="below"))
annots.append(dict(xref="paper", yref="paper", x=fx(1917), y=fy(1056), text="<i>5</i>",
                   showarrow=False, xanchor="center", yanchor="top",
                   font=dict(family=FONT, size=22, color="#d0202a")))

layout["shapes"] = shapes
layout["annotations"] = annots

fig = go.Figure(data=traces, layout=layout)
fig.write_html("out.html")
